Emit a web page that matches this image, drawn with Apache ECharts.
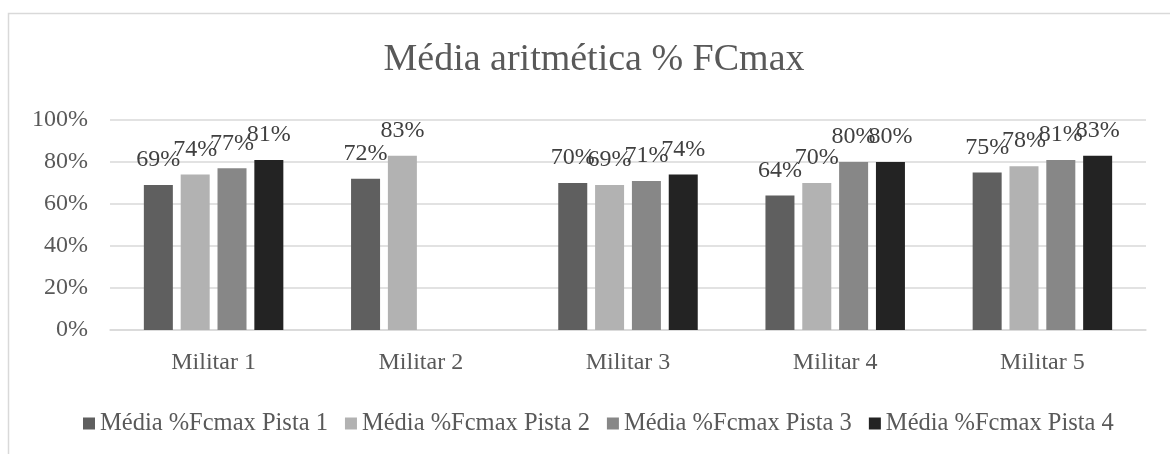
<!DOCTYPE html>
<html>
<head>
<meta charset="utf-8">
<script src="https://cdn.jsdelivr.net/npm/echarts@6/dist/echarts.min.js"></script>
<style>
  html, body { margin: 0; padding: 0; background: #fff; }
  #chart { width: 1170px; height: 454px; }
</style>
</head>
<body>
<div id="chart"></div>
<script>
const categories = ['Militar 1', 'Militar 2', 'Militar 3', 'Militar 4', 'Militar 5'];
const seriesNames = ['Média %Fcmax Pista 1', 'Média %Fcmax Pista 2', 'Média %Fcmax Pista 3', 'Média %Fcmax Pista 4'];
const pista1 = [0.69, 0.72, 0.70, 0.64, 0.75];
const pista2 = [0.74, 0.83, 0.69, 0.70, 0.78];
const pista3 = [0.77, null, 0.71, 0.80, 0.81];
const pista4 = [0.81, null, 0.74, 0.80, 0.83];
const yTicks = [0, 0.2, 0.4, 0.6, 0.8, 1.0];

const colors = ['#5f5f5f', '#b2b2b2', '#878787', '#232323'];
const font = 'Liberation Serif';

var myChart = echarts.init(document.getElementById('chart'));

function makeSeries(name, data, i) {
    return {
        name: name,
        type: 'bar',
        data: data,
        barWidth: 29,
        barGap: '27%',
        itemStyle: { color: colors[i] },
        label: {
            show: true,
            position: 'top',
            distance: 13,
            fontFamily: font,
            fontSize: 24,
            color: '#404040',
            formatter: function (p) { return Math.round(p.value * 100) + '%'; }
        }
    };
}

myChart.setOption({
    animation: false,
    color: colors,
    graphic: [{
        type: 'rect',
        shape: { x: 8.5, y: 13.5, width: 1300, height: 600 },
        style: { fill: 'none', stroke: '#d9d9d9', lineWidth: 1.5 },
        silent: true
    }, {
        // chart title
        type: 'text',
        x: 594,
        y: 41,
        style: {
            text: 'Média aritmética % FCmax',
            align: 'center',
            fontFamily: font,
            fontSize: 38,
            fill: '#595959'
        },
        silent: true
    }],
    grid: { left: 110, right: 24, top: 120, bottom: 124, containLabel: false },
    legend: {
        data: seriesNames,
        left: 78,
        top: 406,
        icon: 'rect',
        itemWidth: 12,
        itemHeight: 12,
        itemGap: 17,
        textStyle: { fontFamily: font, fontSize: 24.5, color: '#595959' }
    },
    xAxis: {
        type: 'category',
        data: categories,
        axisLine: { lineStyle: { color: '#d9d9d9', width: 1.5 } },
        axisTick: { show: false },
        axisLabel: { fontFamily: font, fontSize: 24, color: '#595959', margin: 21 }
    },
    yAxis: {
        type: 'value',
        min: yTicks[0],
        max: yTicks[yTicks.length - 1],
        interval: 0.2,
        axisLine: { show: false },
        axisTick: { show: false },
        splitLine: { lineStyle: { color: '#d9d9d9', width: 1.5 } },
        axisLabel: {
            fontFamily: font, fontSize: 24, color: '#595959', margin: 22,
            formatter: function (v) { return Math.round(v * 100) + '%'; }
        }
    },
    series: [
        makeSeries(seriesNames[0], pista1, 0),
        makeSeries(seriesNames[1], pista2, 1),
        makeSeries(seriesNames[2], pista3, 2),
        makeSeries(seriesNames[3], pista4, 3)
    ]
});
</script>
</body>
</html>
